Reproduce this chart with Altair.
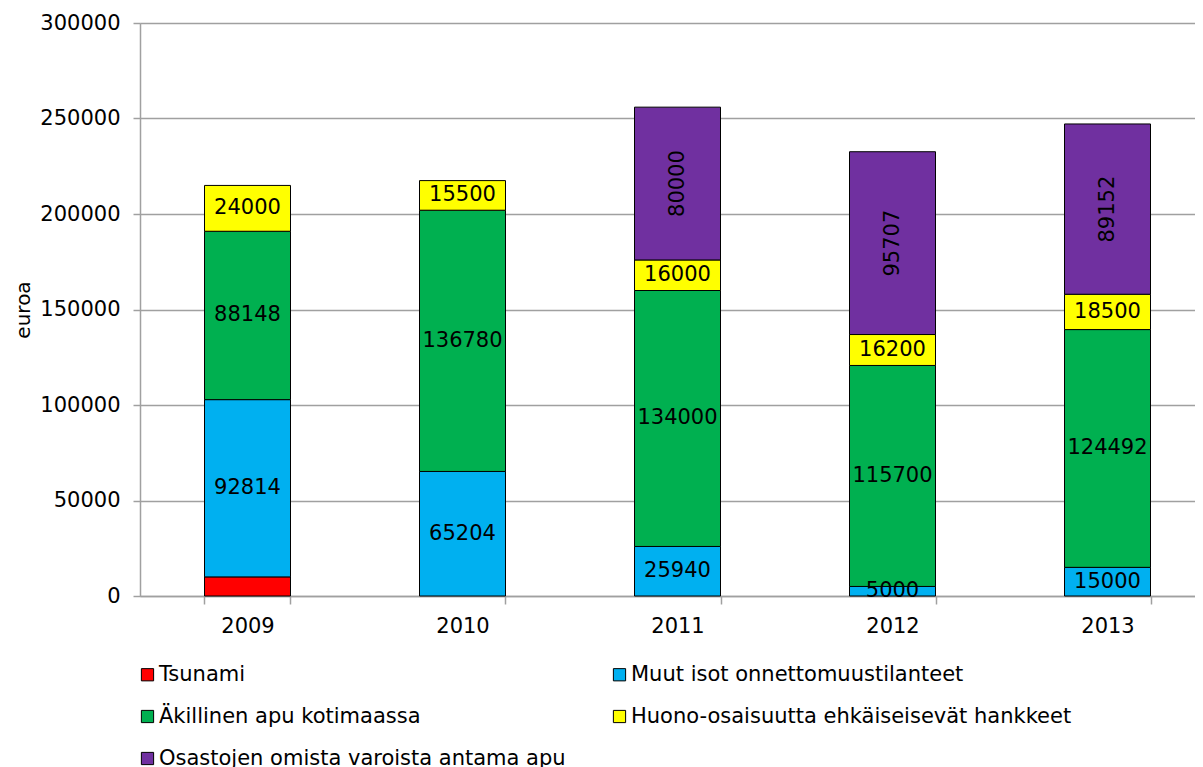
import altair as alt
import pandas as pd

years = ["2009", "2010", "2011", "2012", "2013"]
series = [
    "Tsunami",
    "Muut isot onnettomuustilanteet",
    "Äkillinen apu kotimaassa",
    "Huono-osaisuutta ehkäiseisevät hankkeet",
    "Osastojen omista varoista antama apu",
]
colors = ["#FF0000", "#00B0F0", "#00B050", "#FFFF00", "#7030A0"]

tsunami = [10000, 0, 0, 0, 0]
muut = [92814, 65204, 25940, 5000, 15000]
akillinen = [88148, 136780, 134000, 115700, 124492]
huono = [24000, 15500, 16000, 16200, 18500]
osastojen = [0, 0, 80000, 95707, 89152]
y_ticks = [0, 50000, 100000, 150000, 200000, 250000, 300000]

values = [tsunami, muut, akillinen, huono, osastojen]
rows = []
for si, (name, vals) in enumerate(zip(series, values)):
    for yr, v in zip(years, vals):
        if v > 0:
            rows.append({"year": yr, "series": name, "value": v, "order": si})
df = pd.DataFrame(rows)

FONT = "DejaVu Sans"
GRAY = "#a0a0a0"

base = alt.Chart(df).transform_stack(
    stack="value", groupby=["year"], sort=[alt.SortField("order")], as_=["v0", "v1"]
).transform_calculate(mid="(datum.v0 + datum.v1) / 2")

xenc = alt.X(
    "year:N",
    sort=years,
    scale=alt.Scale(paddingInner=0.6, paddingOuter=0.3, range=[0, 1075]),
    axis=alt.Axis(
        title=None, labelAngle=0, labelFontSize=21, labelFont=FONT, labelColor="black",
        tickBand="extent", tickSize=8, tickColor=GRAY, tickWidth=1.5,
        domainColor=GRAY, domainWidth=1.5, labelPadding=11, grid=False,
    ),
)

bars = base.mark_bar(stroke="black", strokeWidth=1).encode(
    x=xenc,
    y=alt.Y(
        "v0:Q",
        scale=alt.Scale(domain=[0, 300000], nice=False),
        axis=alt.Axis(
            title="euroa", titleFont=FONT, titleFontSize=20, titleFontWeight="normal",
            titleColor="black", titlePadding=6,
            values=y_ticks, format="d", labelFontSize=21, labelFont=FONT, labelColor="black",
            labelPadding=13, tickSize=7, tickColor=GRAY, tickWidth=1.5,
            domainColor=GRAY, domainWidth=1.5, gridColor=GRAY, gridWidth=1.5,
        ),
    ),
    y2="v1:Q",
    fill=alt.Fill(
        "series:N",
        scale=alt.Scale(domain=series, range=colors),
        legend=alt.Legend(
            title=None, orient="none", legendX=-3, legendY=641, columns=2,
            direction="horizontal",
            symbolType="square", symbolSize=150, symbolStrokeColor="black",
            symbolStrokeWidth=1, symbolOpacity=1,
            labelFont=FONT, labelFontSize=21, labelColor="black", labelLimit=600,
            labelOffset=1, columnPadding=43, rowPadding=20, padding=0,
        ),
    ),
    order=alt.Order("order:Q"),
)

text_h = base.transform_filter("datum.order >= 1 && datum.order <= 3").mark_text(
    font=FONT, fontSize=21, color="black"
).encode(
    x=alt.X("year:N", sort=years),
    y=alt.Y("mid:Q"),
    text=alt.Text("value:Q", format="d"),
)

text_v = base.transform_filter("datum.order == 4").mark_text(
    font=FONT, fontSize=21, color="black", angle=270
).encode(
    x=alt.X("year:N", sort=years),
    y=alt.Y("mid:Q"),
    text=alt.Text("value:Q", format="d"),
)

chart = alt.layer(bars, text_h, text_v).properties(
    width=1055, height=573,
    autosize=alt.AutoSizeParams(type="none"),
    padding={"left": 132, "top": 15, "right": 0, "bottom": 180},
).configure_view(strokeWidth=0).configure(background="white")

chart.save("out.html", embed_options={"renderer": "svg", "actions": False})
